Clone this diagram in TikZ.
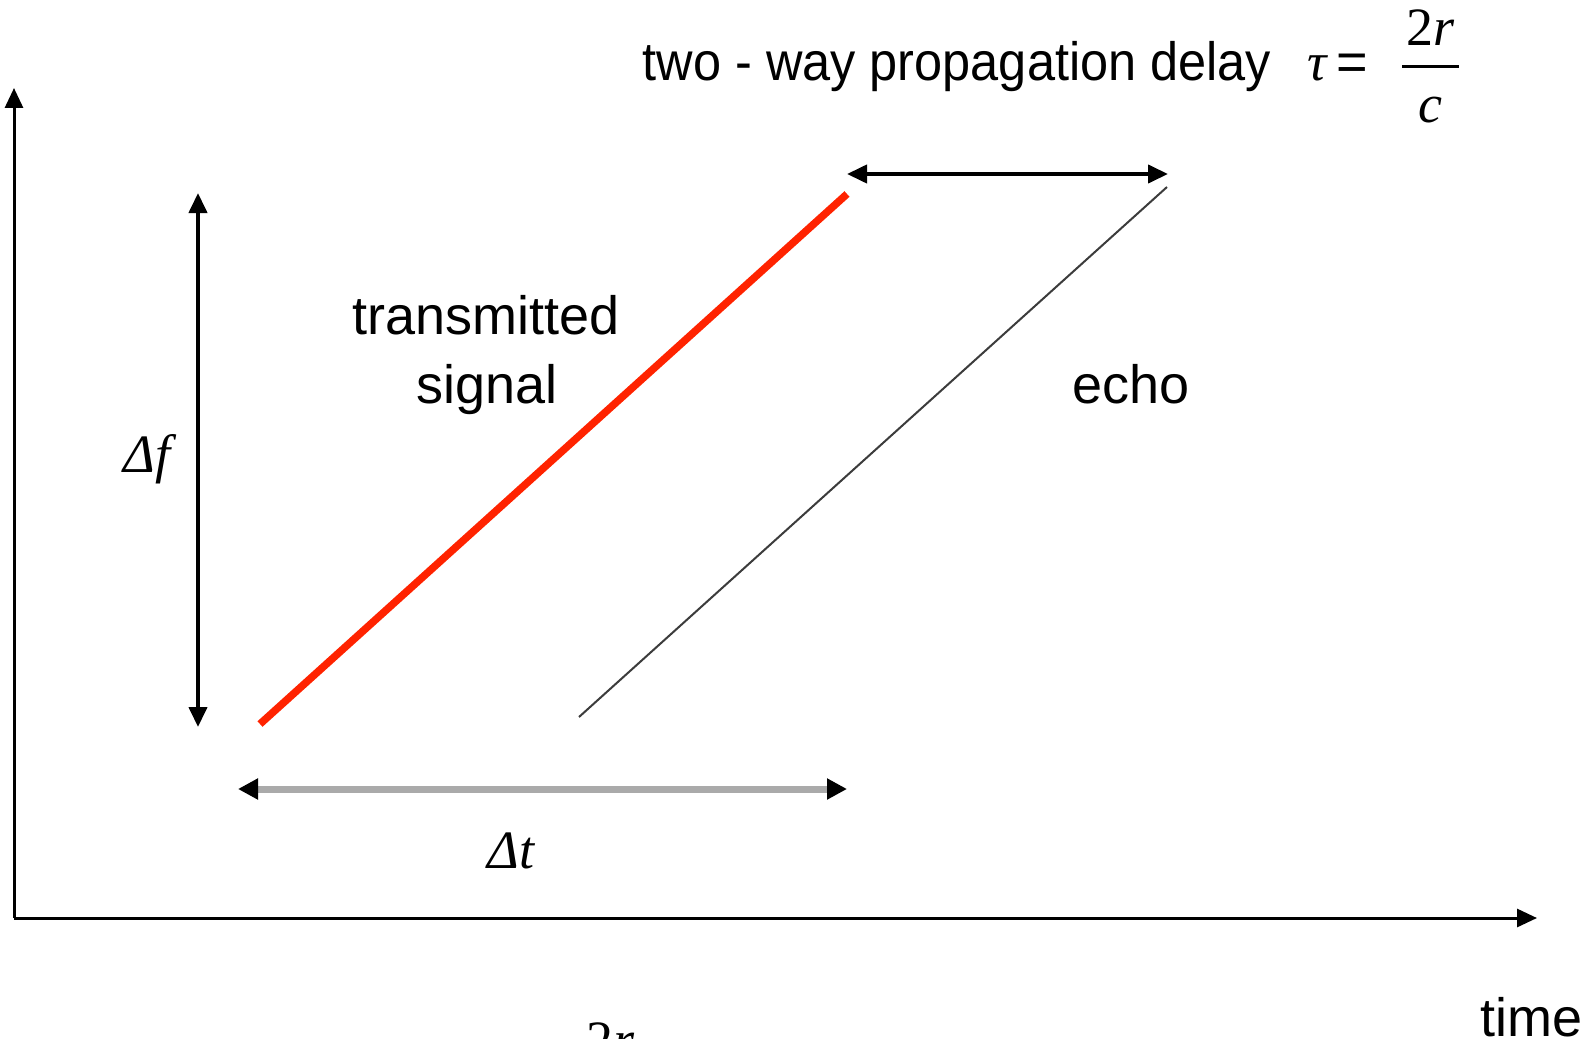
\documentclass[tikz,border=0pt]{standalone}
\usepackage{fontspec}
\setmainfont{Liberation Sans}
\newfontfamily\seriffont{Liberation Serif}
\usetikzlibrary{arrows.meta}
\begin{document}
\begin{tikzpicture}[x=1pt,y=-1pt,
  tip/.style={-{Triangle[length=20pt,width=18pt]}},
  dtip/.style={{Triangle[length=20pt,width=18pt]}-{Triangle[length=20pt,width=18pt]}},
  axisline/.style={line width=3pt, tip},
  dimline/.style={line width=4pt, dtip},
  greyline/.style={line width=7pt, color={rgb,255:red,170;green,170;blue,170},
    {Triangle[length=20pt,width=20pt,color=black]}-{Triangle[length=20pt,width=20pt,color=black]}},
  txsig/.style={line width=7.5pt, color={rgb,255:red,255;green,35;blue,0}},
  echoline/.style={line width=2pt, color={rgb,255:red,60;green,60;blue,60}},
  lbl/.style={font=\fontsize{54}{60}\selectfont, inner sep=0pt},
  mlbl/.style={font=\seriffont\itshape\fontsize{54}{60}\selectfont, inner sep=0pt}]
\useasboundingbox (0,0) rectangle (1589,1038);
\begin{scope}
\clip (0,0) rectangle (1589,1038);
% coordinates
\coordinate (O) at (14,918);
\coordinate (Ytop) at (14,88);
\coordinate (Xend) at (1537,918);
\coordinate (dfTop) at (198,193);
\coordinate (dfBot) at (198,727);
\coordinate (dtL) at (238,789);
\coordinate (dtR) at (847,789);
\coordinate (tauL) at (847,174);
\coordinate (tauR) at (1168,174);
\coordinate (txA) at (260,724);
\coordinate (txB) at (847,194);
\coordinate (ecA) at (579,717);
\coordinate (ecB) at (1167,187);
\coordinate (barL) at (1402,67);
\coordinate (barR) at (1459,67);
% axes
\draw[axisline] (O) -- (Ytop);
\draw[axisline] (O) -- (Xend);
% dimension arrows
\draw[dimline] (dfTop) -- (dfBot);
\draw[dimline] (tauL) -- (tauR);
\draw[greyline] (dtL) -- (dtR);
% signals
\draw[txsig] (txA) -- (txB);
\draw[echoline] (ecA) -- (ecB);
% labels
\node[lbl, anchor=base] (ttl) at (957,81) {\scalebox{0.935}[1]{two - way propagation delay}};
\node[mlbl, anchor=base] (tau) at (1317,81) {τ};
\node[lbl, anchor=base] (eq) at (1352,81) {=};
\draw[line width=3pt] (barL) -- (barR);
\node[anchor=base, inner sep=0pt, font=\seriffont\fontsize{54}{60}\selectfont] (num) at (1431,46) {2\textit{r}};
\node[mlbl, anchor=base] (den) at (1430,122) {c};
\node[lbl, anchor=base] (trans) at (486,334) {transmitted};
\node[lbl, anchor=base] (sig) at (487,403) {signal};
\node[lbl, anchor=base] (echo) at (1131,403) {echo};
\node[mlbl, anchor=base] (df) at (147,472) {Δf};
\node[mlbl, anchor=base] (dt) at (511,868) {Δt};
\node[lbl, anchor=base west] (time) at (1480,1036) {time};
\node[anchor=base west, inner sep=0pt, font=\seriffont\fontsize{54}{60}\selectfont] (frag) at (586,1058) {2\textit{r}};
\end{scope}
\end{tikzpicture}
\end{document}
